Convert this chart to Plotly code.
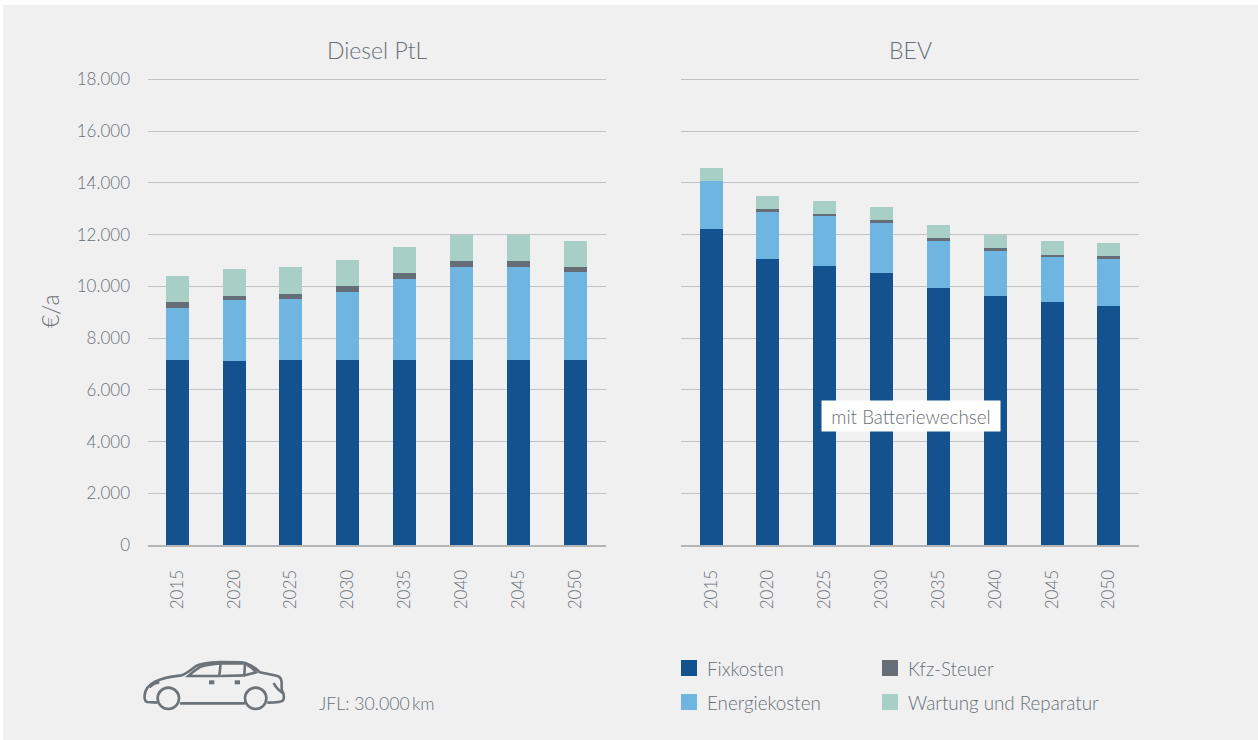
import plotly.graph_objects as go

W, H = 1258, 740

years = ["2015", "2020", "2025", "2030", "2035", "2040", "2045", "2050"]

diesel_fix = [7150, 7110, 7150, 7150, 7150, 7150, 7150, 7150]
diesel_energy = [2014, 2364, 2363, 2633, 3136, 3600, 3600, 3407]
diesel_kfz = [233, 155, 193, 232, 232, 232, 232, 193]
diesel_wartung = [1005, 1044, 1044, 1006, 1005, 1005, 1005, 1006]

bev_fix = [12220, 11060, 10789, 10518, 9938, 9629, 9397, 9242]
bev_energy = [1856, 1856, 1933, 1934, 1818, 1779, 1779, 1818]
bev_kfz = [0, 77, 78, 116, 116, 77, 39, 116]
bev_wartung = [503, 503, 502, 502, 502, 502, 541, 503]

series_names = ["Fixkosten", "Energiekosten", "Kfz-Steuer", "Wartung und Reparatur"]
series_colors = ["#14518f", "#6fb5e1", "#656d76", "#a7cfc6"]
y_ticks = [0, 2000, 4000, 6000, 8000, 10000, 12000, 14000, 16000, 18000]
y_ticklabels = ["0", "2.000", "4.000", "6.000", "8.000", "10.000", "12.000", "14.000", "16.000", "18.000"]

FONT = "Lato"
TXT = "#686f76"
GRID = "#c0c3c5"
BASE = "#b2b4b5"
BG = "#f0f0f0"


def px(x):
    return x / W


def py(y):
    return 1 - y / H


fig = go.Figure()
panels = [("x", "y", [diesel_fix, diesel_energy, diesel_kfz, diesel_wartung]),
          ("x2", "y2", [bev_fix, bev_energy, bev_kfz, bev_wartung])]
for xa, ya, vals in panels:
    for name, col, v in zip(series_names, series_colors, vals):
        fig.add_trace(go.Bar(x=years, y=v, name=name, marker=dict(color=col, line_width=0),
                             width=0.405, xaxis=xa, yaxis=ya, showlegend=False))

xcommon = dict(type="category", showgrid=False, showline=True, linecolor=BASE, linewidth=2,
               ticks="", tickangle=-90, ticklabelstandoff=16, automargin=False,
               tickfont=dict(family=FONT, size=17, color=TXT, weight=300))
# the range reaches slightly past 18.000 so that its gridline is kept
ycommon = dict(range=[0, 18077], domain=[py(545), py(77.5)], tickvals=y_ticks, ticktext=y_ticklabels,
               gridcolor=GRID, gridwidth=1, zeroline=False, showline=False, ticks="", automargin=False)

annotations = []


def text(x, y, s, size=18, anchor="left"):
    annotations.append(dict(xref="paper", yref="paper", x=px(x), y=py(y), text=s, showarrow=False,
                            xanchor=anchor, yanchor="middle", xshift=0,
                            font=dict(family=FONT, size=size, color=TXT, weight=300)))


text(377, 50, "Diesel PtL", 23, "center")
text(910, 50, "BEV", 23, "center")
text(317, 703, "JFL: 30.000\u2009km", 17.7)

annotations.append(dict(xref="paper", yref="paper", x=px(911), y=py(416), text="mit Batteriewechsel",
                        showarrow=False, xanchor="center", yanchor="middle", width=178, height=30, align="center",
                        valign="middle", bgcolor="#ffffff", borderpad=0,
                        font=dict(family=FONT, size=18.8, color=TXT, weight=300)))

shapes = [dict(type="rect", xref="paper", yref="paper", x0=px(3), x1=px(1258), y0=py(740), y1=py(5),
               fillcolor=BG, line_width=0, layer="below")]

# legend, drawn by hand: two columns, two rows
legend_rows = [(681, 668, "Fixkosten", series_colors[0]),
               (681, 702, "Energiekosten", series_colors[1]),
               (882, 668, "Kfz-Steuer", series_colors[2]),
               (882, 702, "Wartung und Reparatur", series_colors[3])]
for x, y, label, col in legend_rows:
    shapes.append(dict(type="rect", xref="paper", yref="paper", x0=px(x), x1=px(x + 16), y0=py(y + 8), y1=py(y - 8),
                       fillcolor=col, line_width=0))
    text(x + 24, y, label, 18.8)


# car icon, traced in a 3x zoom of the reference
def car(z):
    return (130 + z[0] / 3, 640 + z[1] / 3)


def path(cmds):
    out = []
    for c in cmds:
        letter, pts = c[0], c[1:]
        coords = " ".join(f"{px(car(p)[0]):.5f},{py(car(p)[1]):.5f}" for p in pts)
        out.append(f"{letter} {coords}")
    return " ".join(out)


def circle(cx, cy, r):
    k = 0.5523 * r
    return [("M", (cx - r, cy)),
            ("C", (cx - r, cy - k), (cx - k, cy - r), (cx, cy - r)),
            ("C", (cx + k, cy - r), (cx + r, cy - k), (cx + r, cy)),
            ("C", (cx + r, cy + k), (cx + k, cy + r), (cx, cy + r)),
            ("C", (cx - k, cy + r), (cx - r, cy + k), (cx - r, cy))]


ICON = "#6b7278"
car_paths = [
    [("M", (82, 188)), ("L", (52, 186)), ("Q", (42, 184), (44, 165)), ("Q", (46, 140), (75, 125)),
     ("Q", (105, 110), (155, 106)), ("Q", (170, 100), (195, 80)), ("Q", (215, 67), (270, 66)),
     ("L", (335, 67)), ("Q", (365, 72), (390, 97)), ("L", (440, 107)), ("Q", (455, 110), (455, 130)),
     ("L", (455, 150)), ("Q", (465, 165), (460, 180)), ("Q", (455, 188), (412, 188))],
    [("M", (150, 190)), ("L", (345, 190))],
    [("M", (175, 108)), ("Q", (195, 90), (212, 80)), ("Q", (235, 72), (272, 70)), ("L", (268, 108)), ("Z",)],
    [("M", (272, 108)), ("L", (345, 106))],
    [("M", (275, 70)), ("L", (345, 70)), ("L", (343, 106))],
    [("M", (350, 74)), ("Q", (365, 80), (378, 97)), ("L", (345, 106))],
    [("M", (237, 127)), ("L", (253, 127))],
    [("M", (314, 127)), ("L", (330, 127))],
    [("M", (431, 129)), ("Q", (440, 148), (460, 160))],
    [("M", (58, 142)), ("Q", (70, 130), (88, 127))],
    circle(115, 175, 32),
    circle(377, 175, 32),
]
for cmds in car_paths:
    width = 4 if cmds[0][1] in [(237, 127), (314, 127)] else 2.6
    shapes.append(dict(type="path", xref="paper", yref="paper", path=path(cmds),
                       line=dict(color=ICON, width=width), layer="above"))

fig.update_layout(
    width=W, height=H, margin=dict(l=0, r=0, t=0, b=0, autoexpand=False), autosize=False,
    paper_bgcolor="#ffffff", plot_bgcolor="rgba(0,0,0,0)", barmode="stack", bargap=0.6,
    font=dict(family=FONT, color=TXT),
    xaxis=dict(domain=[px(148), px(606)], anchor="y", range=[-0.515, 7.545], **xcommon),
    xaxis2=dict(domain=[px(681), px(1139)], anchor="y2", range=[-0.53, 7.53], **xcommon),
    yaxis=dict(anchor="x", showticklabels=True, ticklabelstandoff=17,
               tickfont=dict(family=FONT, size=17, color=TXT, weight=300),
               title=dict(text="€/a", font=dict(family=FONT, size=23, color=TXT, weight=300), standoff=10), **ycommon),
    yaxis2=dict(anchor="x2", showticklabels=False, **ycommon),
    annotations=annotations, shapes=shapes,
)

fig.write_html("out.html", config={"displayModeBar": False},
               post_script="document.body.style.margin='0';document.body.style.overflow='hidden';")
